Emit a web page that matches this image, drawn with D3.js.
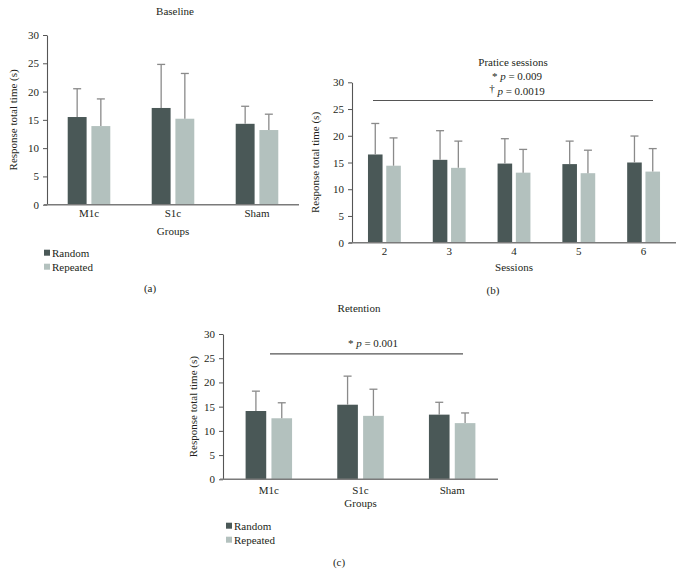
<!DOCTYPE html>
<html>
<head>
<meta charset="utf-8">
<script src="https://cdn.jsdelivr.net/npm/d3@7"></script>
<style>
  html, body { margin: 0; padding: 0; background: #fff; }
  svg { display: block; }
  text { font-family: "Liberation Serif", "DejaVu Serif", serif; fill: #231f20; }
</style>
</head>
<body>
<svg id="chart" width="683" height="584"></svg>
<script>
// ---------- DATA ----------
const groups = ["M1c", "S1c", "Sham"];
const sessions = ["2", "3", "4", "5", "6"];
const seriesNames = ["Random", "Repeated"];
const yTicks = [0, 5, 10, 15, 20, 25, 30];

const baselineRandom = [15.5, 17.1, 14.3];
const baselineRandomSD = [5.0, 7.7, 3.1];
const baselineRepeated = [13.9, 15.2, 13.2];
const baselineRepeatedSD = [4.8, 8.0, 2.8];

const practiceRandom = [16.5, 15.5, 14.8, 14.7, 15.0];
const practiceRandomSD = [5.8, 5.45, 4.65, 4.3, 4.95];
const practiceRepeated = [14.4, 14.0, 13.1, 13.0, 13.3];
const practiceRepeatedSD = [5.2, 5.0, 4.35, 4.3, 4.3];

const retentionRandom = [14.1, 15.4, 13.35];
const retentionRandomSD = [4.1, 5.9, 2.55];
const retentionRepeated = [12.6, 13.1, 11.6];
const retentionRepeatedSD = [3.2, 5.5, 2.1];

const practiceSigLevel = 26.6;
const retentionSigLevel = 25.9;

// ---------- STYLE ----------
const colors = { Random: "#4a5857", Repeated: "#b3c1be" };
const errColor = "#8a8a8a";
const fs = 11;

const svg = d3.select("#chart");

function panel(cfg) {
  const g = svg.append("g");
  const x = d3.scaleBand().domain(cfg.cats).range([cfg.x0, cfg.x1]);
  const y = d3.scaleLinear().domain([0, 30]).range([cfg.yBottom, cfg.yTop]);
  const bw = x.bandwidth();
  const w = bw * 0.225, gap = bw * 0.057;

  // bars
  cfg.series.forEach((s, si) => {
    const off = si === 0 ? -gap / 2 - w : gap / 2;
    g.selectAll(null).data(s.values).enter().append("rect")
      .attr("x", (d, i) => x(cfg.cats[i]) + bw / 2 + off)
      .attr("y", d => y(d))
      .attr("width", w)
      .attr("height", d => y(0) - y(d))
      .attr("fill", colors[s.name]);
    // error bars
    const eb = g.selectAll(null).data(s.values).enter().append("g")
      .attr("transform", (d, i) => `translate(${x(cfg.cats[i]) + bw / 2 + off + w / 2},0)`);
    eb.append("line")
      .attr("y1", d => y(d))
      .attr("y2", (d, i) => y(d + s.sd[i]))
      .attr("stroke", errColor).attr("stroke-width", 1.3);
    eb.append("line")
      .attr("x1", -4).attr("x2", 4)
      .attr("y1", (d, i) => y(d + s.sd[i]))
      .attr("y2", (d, i) => y(d + s.sd[i]))
      .attr("stroke", errColor).attr("stroke-width", 1.3);
  });

  // y axis
  const ya = g.append("g").attr("transform", `translate(${cfg.x0},0)`)
    .call(d3.axisLeft(y).tickValues(yTicks).tickSize(4).tickPadding(4).tickSizeOuter(0));
  ya.select(".domain").attr("stroke", "#555").attr("stroke-width", 1.1);
  ya.selectAll(".tick line").attr("stroke", "#555");
  ya.selectAll("text").style("font-family", '"Liberation Serif", serif').style("font-size", fs + "px").attr("fill", "#231f20");

  // x axis line
  g.append("line").attr("x1", cfg.x0 - 3).attr("x2", cfg.x1)
    .attr("y1", y(0)).attr("y2", y(0)).attr("stroke", "#7a7a7a").attr("stroke-width", 1.5);
  // x labels
  g.selectAll(null).data(cfg.cats).enter().append("text")
    .attr("x", d => x(d) + bw / 2).attr("y", cfg.xLabY)
    .attr("text-anchor", "middle").style("font-size", fs + "px").text(d => d);

  // axis titles
  g.append("text").attr("x", (cfg.x0 + cfg.x1) / 2).attr("y", cfg.xTitleY)
    .attr("text-anchor", "middle").style("font-size", fs + "px").text(cfg.xTitle);
  g.append("text")
    .attr("transform", `translate(${cfg.yTitleX},${(cfg.yBottom + cfg.yTop) / 2}) rotate(-90)`)
    .attr("text-anchor", "middle").attr("dy", "0.35em").style("font-size", fs + "px")
    .text("Response total time (s)");
  g.append("text").attr("x", cfg.titleX).attr("y", cfg.titleY)
    .attr("text-anchor", "middle").style("font-size", fs + "px").text(cfg.title);
  g.append("text").attr("x", cfg.tagX).attr("y", cfg.tagY)
    .attr("text-anchor", "middle").style("font-size", fs + "px").text(cfg.tag);

  // legend
  if (cfg.legend) {
    seriesNames.forEach((n, i) => {
      const ly = cfg.legend.y + i * 14;
      g.append("rect").attr("x", cfg.legend.x).attr("y", ly - 3).attr("width", 6).attr("height", 6)
        .attr("fill", colors[n]);
      g.append("text").attr("x", cfg.legend.x + 8).attr("y", ly).attr("dy", "0.35em")
        .style("font-size", fs + "px").text(n);
    });
  }

  // significance
  if (cfg.sig) {
    g.append("line").attr("x1", cfg.sig.x1).attr("x2", cfg.sig.x2)
      .attr("y1", y(cfg.sig.level)).attr("y2", y(cfg.sig.level))
      .attr("stroke", "#555").attr("stroke-width", 1.2);
    cfg.sig.lines.forEach((L, i) => {
      const t = g.append("text").attr("x", cfg.sig.tx).attr("y", L.y)
        .attr("text-anchor", "middle").style("font-size", fs + "px");
      if (L.sup) {
        t.append("tspan").attr("dy", -3).text(L.mark);
        t.append("tspan").attr("dy", 3).text(" ");
      } else {
        t.append("tspan").text(L.mark + " ");
      }
      t.append("tspan").style("font-style", "italic").text("p");
      t.append("tspan").text(" = " + L.val);
    });
  }
  return { x, y };
}

// (a) Baseline
panel({
  cats: groups, x0: 47, x1: 299, yTop: 35, yBottom: 204.7,
  series: [
    { name: "Random", values: baselineRandom, sd: baselineRandomSD },
    { name: "Repeated", values: baselineRepeated, sd: baselineRepeatedSD }
  ],
  xLabY: 217, xTitle: "Groups", xTitleY: 235, yTitleX: 13,
  title: "Baseline", titleX: 175, titleY: 15, tag: "(a)", tagX: 150, tagY: 292,
  legend: { x: 44, y: 252.7 }
});

// (b) Practice
const pb = { cats: sessions, x0: 352, x1: 676, yTop: 82.3, yBottom: 242.7 };
panel(Object.assign(pb, {
  series: [
    { name: "Random", values: practiceRandom, sd: practiceRandomSD },
    { name: "Repeated", values: practiceRepeated, sd: practiceRepeatedSD }
  ],
  xLabY: 255, xTitle: "Sessions", xTitleY: 271, yTitleX: 315,
  title: "Pratice sessions", titleX: 513, titleY: 66, tag: "(b)", tagX: 493, tagY: 294,
  sig: {
    level: practiceSigLevel, x1: 373, x2: 653, tx: 517,
    lines: [
      { mark: "*", val: "0.009", y: 80, sup: false },
      { mark: "\u2020", val: "0.0019", y: 95, sup: true }
    ]
  }
}));

// (c) Retention
panel({
  cats: groups, x0: 223, x1: 498, yTop: 334, yBottom: 479.3,
  series: [
    { name: "Random", values: retentionRandom, sd: retentionRandomSD },
    { name: "Repeated", values: retentionRepeated, sd: retentionRepeatedSD }
  ],
  xLabY: 494, xTitle: "Groups", xTitleY: 507, yTitleX: 193,
  title: "Retention", titleX: 359, titleY: 312, tag: "(c)", tagX: 339, tagY: 566,
  legend: { x: 226, y: 525.7 },
  sig: {
    level: retentionSigLevel, x1: 270, x2: 463, tx: 373,
    lines: [{ mark: "*", val: "0.001", y: 347, sup: false }]
  }
});
</script>
</body>
</html>
